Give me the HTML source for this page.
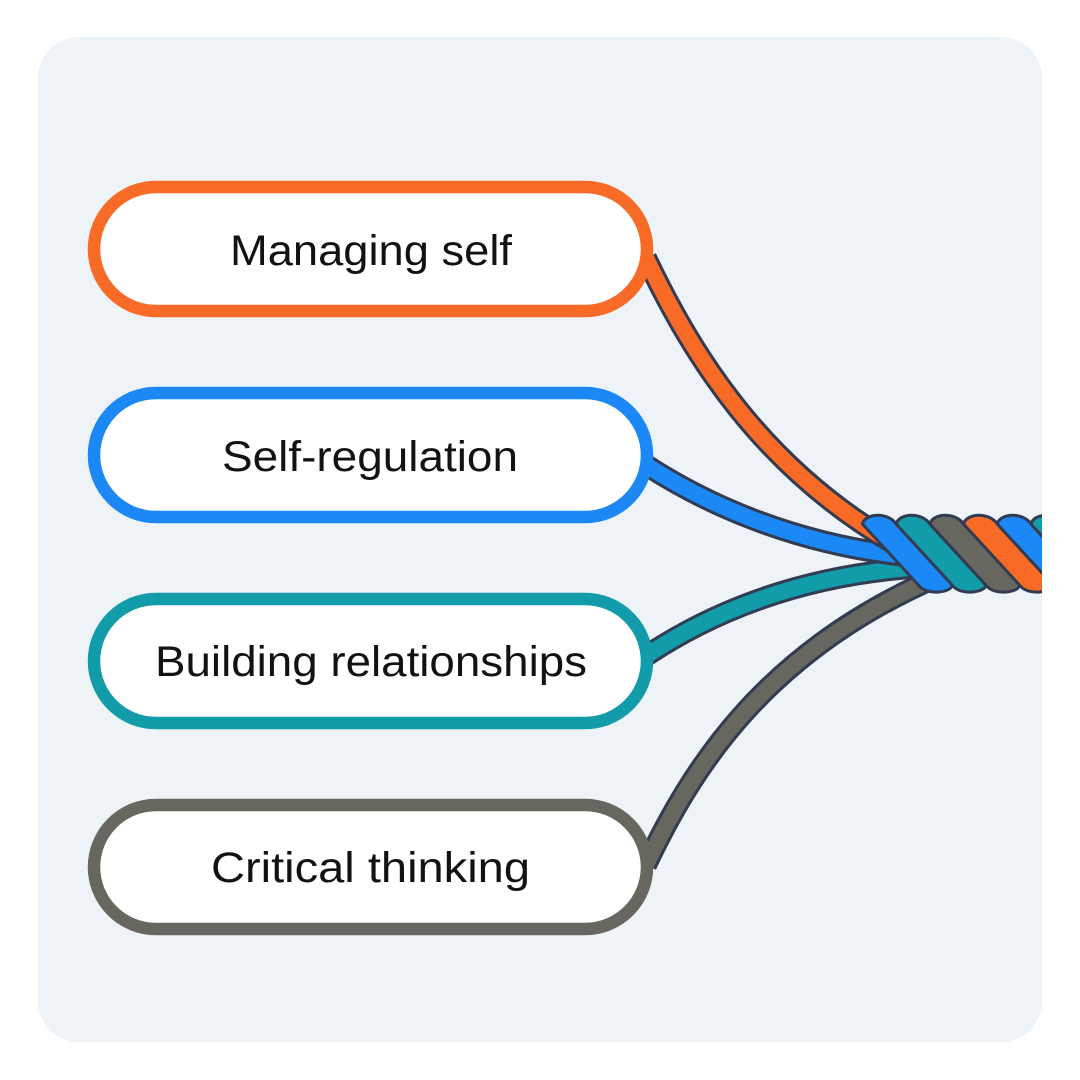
<!DOCTYPE html>
<html>
<head>
<meta charset="utf-8">
<style>
  html, body { margin: 0; padding: 0; background: #ffffff; }
  body { width: 1080px; height: 1080px; overflow: hidden; }
  svg { display: block; }
  text { font-family: "Liberation Sans", "DejaVu Sans", sans-serif; font-size: 43px; fill: #121212; }
</style>
</head>
<body>
<svg width="1080" height="1080" viewBox="0 0 1080 1080" xmlns="http://www.w3.org/2000/svg">
  <defs>
    <clipPath id="panelClip">
      <rect x="38" y="37" width="1004" height="1005" rx="41" ry="41"/>
    </clipPath>
  </defs>

  <!-- background panel -->
  <rect x="38" y="37" width="1004" height="1005" rx="41" ry="41" fill="#eef3f8"/>

  <g clip-path="url(#panelClip)">
    <g fill="none">
      <!-- grey -->
      <path d="M646 865 C690 773 760 655 935 578" stroke="#313b51" stroke-width="22"/>
      <path d="M646 865 C690 773 760 655 935 578" stroke="#67675f" stroke-width="16"/>
      <!-- teal -->
      <path d="M646 656 C700 620 790 575 925 567" stroke="#313b51" stroke-width="22"/>
      <path d="M646 656 C700 620 790 575 925 567" stroke="#129ba8" stroke-width="16"/>
      <!-- blue -->
      <path d="M646 465 C700 500 790 545 915 557" stroke="#313b51" stroke-width="22"/>
      <path d="M646 465 C700 500 790 545 915 557" stroke="#1b88f5" stroke-width="16"/>
      <!-- orange -->
      <path d="M646 258 C690 350 760 470 905 550" stroke="#313b51" stroke-width="22"/>
      <path d="M646 258 C690 350 760 470 905 550" stroke="#f86b27" stroke-width="16"/>
    </g>

    <!-- twisted rope bands -->
    <g stroke="#313b51" stroke-width="3" stroke-linejoin="round">
      <path transform="translate(0 0)" fill="#1b88f5" d="M862.4 524 C865 514 884 512 893.7 521 L952.4 585 C951 593 928 595 920.2 587 Z"/>
      <path transform="translate(33.7 0)" fill="#129ba8" d="M862.4 524 C865 514 884 512 893.7 521 L952.4 585 C951 593 928 595 920.2 587 Z"/>
      <path transform="translate(67.4 0)" fill="#67675f" d="M862.4 524 C865 514 884 512 893.7 521 L952.4 585 C951 593 928 595 920.2 587 Z"/>
      <path transform="translate(101.1 0)" fill="#f86b27" d="M862.4 524 C865 514 884 512 893.7 521 L952.4 585 C951 593 928 595 920.2 587 Z"/>
      <path transform="translate(134.8 0)" fill="#1b88f5" d="M862.4 524 C865 514 884 512 893.7 521 L952.4 585 C951 593 928 595 920.2 587 Z"/>
      <path transform="translate(168.5 0)" fill="#129ba8" d="M862.4 524 C865 514 884 512 893.7 521 L952.4 585 C951 593 928 595 920.2 587 Z"/>
    </g>
  </g>

  <!-- boxes -->
  <rect x="94" y="187" width="553" height="124" rx="62" ry="62" fill="#ffffff" stroke="#f86b27" stroke-width="12.5"/>
  <rect x="94" y="393" width="553" height="124" rx="62" ry="62" fill="#ffffff" stroke="#1b88f5" stroke-width="12.5"/>
  <rect x="94" y="599" width="553" height="124" rx="62" ry="62" fill="#ffffff" stroke="#129ba8" stroke-width="12.5"/>
  <rect x="94" y="805" width="553" height="124" rx="62" ry="62" fill="#ffffff" stroke="#67675f" stroke-width="12.5"/>

  <!-- labels -->
  <text x="230" y="265" textLength="282" lengthAdjust="spacingAndGlyphs">Managing self</text>
  <text x="222" y="471" textLength="296" lengthAdjust="spacingAndGlyphs">Self-regulation</text>
  <text x="155" y="676" textLength="432" lengthAdjust="spacingAndGlyphs">Building relationships</text>
  <text x="211" y="882" textLength="319" lengthAdjust="spacingAndGlyphs">Critical thinking</text>
</svg>
</body>
</html>
